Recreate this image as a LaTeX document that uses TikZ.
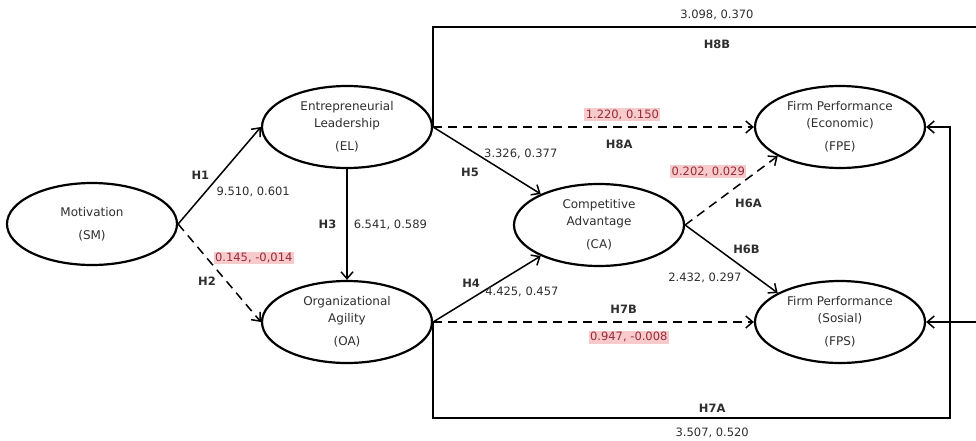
\documentclass[tikz,border=0pt]{standalone}
\usepackage{fontspec}
\setmainfont{DejaVu Sans}
\usepackage{tikz}
\usetikzlibrary{shapes.geometric, positioning, arrows.meta}
\definecolor{ink}{HTML}{2E2E2E}
\definecolor{nsfill}{HTML}{F7CBCB}
\definecolor{nstext}{HTML}{9A2B38}

\begin{document}
\begin{tikzpicture}
	[x=1pt, y=-1pt, on grid, auto, >={Straight Barb[length=7pt,width=12pt]},
	 latent/.style={ellipse, draw, line width=2.2pt, minimum width=170pt, minimum height=82pt,
	                inner sep=0pt, align=center, text=ink, font=\fontsize{12}{17}\selectfont},
	 hyp/.style={font=\fontsize{11.5}{13}\selectfont\bfseries, text=ink, inner sep=3pt},
	 coef/.style={font=\fontsize{11.5}{13}\selectfont, text=ink, inner sep=3pt},
	 nsig/.style={coef, fill=nsfill, text=nstext, inner sep=1.5pt},
	 link/.style={line width=1.5pt},
	 weak/.style={link, dash pattern=on 9pt off 6pt}]
   \useasboundingbox (0,0) rectangle (976,441);
   \node[latent] (SM) at (92,224) {Motivation\\[6pt](SM)};
   \node[latent] (EL) [above right=97pt and 255pt of SM] {Entrepreneurial\\Leadership\\[6pt](EL)};
   \node[latent] (OA) [below=195pt of EL] {Organizational\\Agility\\[6pt](OA)};
   \node[latent] (CA) [below right=98pt and 252pt of EL] {Competitive\\Advantage\\[6pt](CA)};
   \node[latent] (FPE) [right=493pt of EL] {Firm Performance\\(Economic)\\[6pt](FPE)};
   \node[latent] (FPS) [below=195pt of FPE] {Firm Performance\\(Sosial)\\[6pt](FPS)};
   \coordinate (topR) at (979,27);
   \coordinate (botR) at (950,418);
    \path[->, link]
    (SM.east) edge node[hyp, pos=.42] (h1) {H1}
                   node[coef, pos=.42, swap] (c1) {9.510, 0.601} (EL.west)
              edge [weak] node[nsig, pos=.42] (c2) {0.145, -0,014}
                   node[hyp, pos=.5, swap] (h2) {H2} (OA.west)
    (EL.south) edge node[coef, xshift=3pt] (c3) {6.541, 0.589}
                    node[hyp, swap, xshift=-7pt] (h3) {H3} (OA.north)
    (EL.east) edge node[coef, pos=.44, anchor=west, yshift=3pt] (c5) {3.326, 0.377}
                   node[hyp, pos=.46, swap, yshift=-7pt] (h5) {H5} (CA.152)
              edge [weak] node[nsig, pos=.59, above=5pt] (c8a) {1.220, 0.150}
                   node[hyp, pos=.58, below=9pt] (h8a) {H8A} (FPE.west)
    (OA.east) edge node[hyp, pos=.47] (h4) {H4}
                   node[coef, pos=.45, anchor=west] (c4) {4.425, 0.457} (CA.208)
              edge [weak] node[hyp, pos=.594, above=5pt] (h7b) {H7B}
                   node[nsig, pos=.61, below=8pt] (c7b) {0.947, -0.008} (FPS.west)
    (CA.east) edge [weak] node[nsig, pos=.67] (c6a) {0.202, 0.029}
                   node[hyp, pos=.5, swap, yshift=-5pt] (h6a) {H6A} (FPE.205)
              edge node[hyp, pos=.48] (h6b) {H6B}
                   node[coef, pos=.65, swap] (c6b) {2.432, 0.297} (FPS.155);
    % long paths round the outside
    \draw[->, link] (EL.east) |- (topR)
          node[coef, pos=.76, above=3pt] (c8b) {3.098, 0.370}
          node[hyp, pos=.76, below=9pt] (h8b) {H8B} |- (FPS.east);
    \draw[->, link] (OA.east) |- (botR)
          node[hyp, pos=.77, above=2pt] (h7a) {H7A}
          node[coef, pos=.77, below=6pt] (c7a) {3.507, 0.520} |- (FPE.east);
\end{tikzpicture}
\end{document}
